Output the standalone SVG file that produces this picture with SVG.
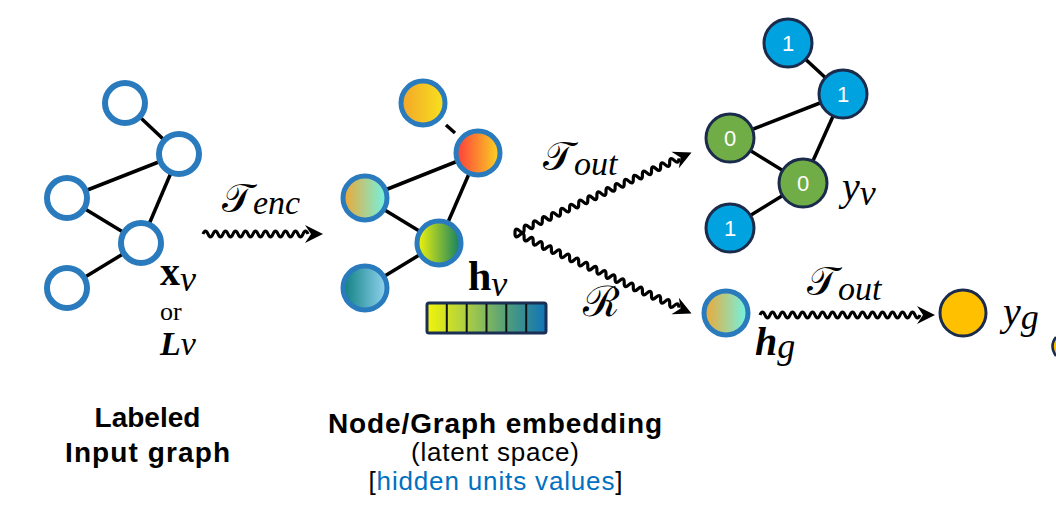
<svg xmlns="http://www.w3.org/2000/svg" xmlns:xlink="http://www.w3.org/1999/xlink" width="1056" height="525" viewBox="0 0 1056 525">
<style>
.edge{stroke:#000;stroke-width:3.5;fill:none}
.wave{stroke:#000;stroke-width:3.2;fill:none;stroke-linejoin:round}
.inNode{fill:#fff;stroke:#2a7bbd;stroke-width:6}
.embNode{stroke:#2a7bbd;stroke-width:5}
.blue1{fill:#00a3e0;stroke:#1b2b4b;stroke-width:3}
.green0{fill:#70ad47;stroke:#1b2b4b;stroke-width:3}
.lbl{font-family:"Liberation Sans",Arial,sans-serif;font-size:22px;fill:#fff;text-anchor:middle}
.math{font-family:"Liberation Serif","DejaVu Serif",serif;fill:#000}
.cap{font-family:"Liberation Sans",Arial,sans-serif;font-size:28px;text-anchor:middle;fill:#000}
.sub{font-family:"Liberation Sans",Arial,sans-serif;font-size:26px;text-anchor:middle;fill:#000}
</style>
<defs>
<path id="ah" d="M0,0 L-18,-9 L-12,0 L-18,9 Z" fill="#000"/>
<linearGradient id="gA"><stop offset="0" stop-color="#f3a52a"/><stop offset="1" stop-color="#f8e21e"/></linearGradient>
<linearGradient id="gB"><stop offset="0" stop-color="#ff3b3b"/><stop offset="1" stop-color="#f9d623"/></linearGradient>
<linearGradient id="gC"><stop offset="0" stop-color="#f0a632"/><stop offset="1" stop-color="#6ff5e6"/></linearGradient>
<linearGradient id="gD"><stop offset="0" stop-color="#f5f50a"/><stop offset="1" stop-color="#0f7f63"/></linearGradient>
<linearGradient id="gE"><stop offset="0" stop-color="#0f7f80"/><stop offset="1" stop-color="#92d4f2"/></linearGradient>
<linearGradient id="gBar"><stop offset="0" stop-color="#f2f40a"/><stop offset="0.35" stop-color="#a8cc46"/><stop offset="0.7" stop-color="#4a9a80"/><stop offset="1" stop-color="#0f74b8"/></linearGradient>
</defs>

<g id="connectors">
  <line class="edge" x1="125" y1="103" x2="179" y2="154"/>
  <line class="edge" x1="179" y1="154" x2="67" y2="198"/>
  <line class="edge" x1="179" y1="154" x2="141" y2="243"/>
  <line class="edge" x1="67" y1="198" x2="141" y2="243"/>
  <line class="edge" x1="141" y1="243" x2="67" y2="288"/>
  <line class="edge" x1="446" y1="125" x2="455" y2="133"/>
  <line class="edge" x1="478" y1="153" x2="365" y2="198"/>
  <line class="edge" x1="478" y1="153" x2="439" y2="243"/>
  <line class="edge" x1="365" y1="198" x2="439" y2="243"/>
  <line class="edge" x1="439" y1="243" x2="365" y2="288"/>
  <line class="edge" x1="788" y1="43" x2="843" y2="94"/>
  <line class="edge" x1="843" y1="94" x2="730" y2="138"/>
  <line class="edge" x1="843" y1="94" x2="803" y2="183"/>
  <line class="edge" x1="730" y1="138" x2="803" y2="183"/>
  <line class="edge" x1="803" y1="183" x2="730" y2="228"/>
  <g id="arrow-enc" transform="translate(203,234)">
    <path class="wave" d="M0,0 q2.5,-6 5,0 q2.5,6 5,0 q2.5,-6 5,0 q2.5,6 5,0 q2.5,-6 5,0 q2.5,6 5,0 q2.5,-6 5,0 q2.5,6 5,0 q2.5,-6 5,0 q2.5,6 5,0 q2.5,-6 5,0 q2.5,6 5,0 q2.5,-6 5,0 q2.5,6 5,0 q2.5,-6 5,0 q2.5,6 5,0 q2.5,-6 5,0 q2.5,6 5,0 q2.5,-6 5,0 q2.5,6 5,0 q2.5,-6 5,0"/>
    <use xlink:href="#ah" href="#ah" x="120" y="0"/>
  </g>
  <g id="arrow-out-node" transform="translate(515,233) rotate(-24.5)">
    <path class="wave" d="M0,0 q2.5,-6 5,0 q2.5,6 5,0 q2.5,-6 5,0 q2.5,6 5,0 q2.5,-6 5,0 q2.5,6 5,0 q2.5,-6 5,0 q2.5,6 5,0 q2.5,-6 5,0 q2.5,6 5,0 q2.5,-6 5,0 q2.5,6 5,0 q2.5,-6 5,0 q2.5,6 5,0 q2.5,-6 5,0 q2.5,6 5,0 q2.5,-6 5,0 q2.5,6 5,0 q2.5,-6 5,0 q2.5,6 5,0 q2.5,-6 5,0 q2.5,6 5,0 q2.5,-6 5,0 q2.5,6 5,0 q2.5,-6 5,0 q2.5,6 5,0 q2.5,-6 5,0 q2.5,6 5,0 q2.5,-6 5,0 q2.5,6 5,0 q2.5,-6 5,0 q2.5,6 5,0 q2.5,-6 5,0 q2.5,6 5,0 q2.5,-6 5,0 q2.5,6 5,0"/>
    <use xlink:href="#ah" href="#ah" x="194" y="0"/>
  </g>
  <g id="arrow-readout" transform="translate(515,233) rotate(24.5)">
    <path class="wave" d="M0,0 q2.5,6 5,0 q2.5,-6 5,0 q2.5,6 5,0 q2.5,-6 5,0 q2.5,6 5,0 q2.5,-6 5,0 q2.5,6 5,0 q2.5,-6 5,0 q2.5,6 5,0 q2.5,-6 5,0 q2.5,6 5,0 q2.5,-6 5,0 q2.5,6 5,0 q2.5,-6 5,0 q2.5,6 5,0 q2.5,-6 5,0 q2.5,6 5,0 q2.5,-6 5,0 q2.5,6 5,0 q2.5,-6 5,0 q2.5,6 5,0 q2.5,-6 5,0 q2.5,6 5,0 q2.5,-6 5,0 q2.5,6 5,0 q2.5,-6 5,0 q2.5,6 5,0 q2.5,-6 5,0 q2.5,6 5,0 q2.5,-6 5,0 q2.5,6 5,0 q2.5,-6 5,0 q2.5,6 5,0 q2.5,-6 5,0 q2.5,6 5,0 q2.5,-6 5,0"/>
    <use xlink:href="#ah" href="#ah" x="194" y="0"/>
  </g>
  <g id="arrow-out-graph" transform="translate(760,315)">
    <path class="wave" d="M0,0 q2.5,-6 5,0 q2.5,6 5,0 q2.5,-6 5,0 q2.5,6 5,0 q2.5,-6 5,0 q2.5,6 5,0 q2.5,-6 5,0 q2.5,6 5,0 q2.5,-6 5,0 q2.5,6 5,0 q2.5,-6 5,0 q2.5,6 5,0 q2.5,-6 5,0 q2.5,6 5,0 q2.5,-6 5,0 q2.5,6 5,0 q2.5,-6 5,0 q2.5,6 5,0 q2.5,-6 5,0 q2.5,6 5,0 q2.5,-6 5,0 q2.5,6 5,0 q2.5,-6 5,0 q2.5,6 5,0 q2.5,-6 5,0 q2.5,6 5,0 q2.5,-6 5,0 q2.5,6 5,0 q2.5,-6 5,0 q2.5,6 5,0 q2.5,-6 5,0 q2.5,6 5,0"/>
    <use xlink:href="#ah" href="#ah" x="175" y="0"/>
  </g>
</g>

<g id="in-a"><circle class="inNode" cx="125" cy="103" r="20"/></g>
<g id="in-b"><circle class="inNode" cx="179" cy="154" r="20"/></g>
<g id="in-c"><circle class="inNode" cx="67" cy="198" r="20"/></g>
<g id="in-d"><circle class="inNode" cx="141" cy="243" r="20"/></g>
<g id="in-e"><circle class="inNode" cx="67" cy="288" r="20"/></g>

<g id="emb-a"><circle class="embNode" cx="423" cy="103" r="22" fill="url(#gA)"/></g>
<g id="emb-b"><circle class="embNode" cx="478" cy="153" r="22" fill="url(#gB)"/></g>
<g id="emb-c"><circle class="embNode" cx="365" cy="198" r="22" fill="url(#gC)"/></g>
<g id="emb-d"><circle class="embNode" cx="439" cy="243" r="22" fill="url(#gD)"/></g>
<g id="emb-e"><circle class="embNode" cx="365" cy="288" r="22" fill="url(#gE)"/></g>

<g id="bar">
  <rect x="427" y="303" width="119" height="30" rx="2" fill="url(#gBar)" stroke="#1b2f55" stroke-width="3"/>
  <g stroke="#111" stroke-width="2">
    <line x1="446.8" y1="304" x2="446.8" y2="332"/>
    <line x1="466.7" y1="304" x2="466.7" y2="332"/>
    <line x1="486.5" y1="304" x2="486.5" y2="332"/>
    <line x1="506.3" y1="304" x2="506.3" y2="332"/>
    <line x1="526.2" y1="304" x2="526.2" y2="332"/>
  </g>
</g>

<g id="out-1"><circle class="blue1" cx="788" cy="43" r="24"/><text class="lbl" x="788" y="51">1</text></g>
<g id="out-2"><circle class="blue1" cx="843" cy="94" r="24"/><text class="lbl" x="843" y="102">1</text></g>
<g id="out-3"><circle class="green0" cx="730" cy="138" r="24"/><text class="lbl" x="730" y="146">0</text></g>
<g id="out-4"><circle class="green0" cx="803" cy="183" r="24"/><text class="lbl" x="803" y="191">0</text></g>
<g id="out-5"><circle class="blue1" cx="730" cy="228" r="24"/><text class="lbl" x="730" y="236">1</text></g>

<g id="hg-node"><circle class="embNode" cx="726" cy="313" r="22" fill="url(#gC)"/></g>
<g id="yg-node"><circle cx="963" cy="313" r="23" fill="#ffc000" stroke="#1b2b4b" stroke-width="3"/></g>
<g id="edge-partial"><path d="M1056,337 Q1049,346 1056,356" fill="#ffc000" stroke="#1b2b4b" stroke-width="2.5"/></g>

<g id="labels">
  <text class="math" x="160" y="285"><tspan font-weight="bold" font-size="40">x</tspan><tspan font-style="italic" font-size="36" dy="6">v</tspan></text>
  <text class="math" x="160" y="320" font-size="26">or</text>
  <text class="math" x="160" y="355" font-size="34" font-style="italic"><tspan font-weight="bold">L</tspan>v</text>
  <text class="math" x="222" y="212"><tspan font-size="40">𝒯</tspan><tspan font-style="italic" font-size="34" dy="2">enc</tspan></text>
  <text class="math" x="468" y="290"><tspan font-weight="bold" font-size="42">h</tspan><tspan font-style="italic" font-size="36" dy="6">v</tspan></text>
  <text class="math" x="543" y="170"><tspan font-size="40">𝒯</tspan><tspan font-style="italic" font-size="34" dy="5">out</tspan></text>
  <text class="math" x="583" y="316" font-size="42">ℛ</text>
  <text class="math" x="807" y="295"><tspan font-size="40">𝒯</tspan><tspan font-style="italic" font-size="34" dy="5">out</tspan></text>
  <text class="math" x="842" y="200"><tspan font-style="italic" font-size="40">y</tspan><tspan font-style="italic" font-size="36" dy="5">v</tspan></text>
  <text class="math" x="755" y="355"><tspan font-style="italic" font-weight="bold" font-size="40">h</tspan><tspan font-style="italic" font-size="36" dy="3">g</tspan></text>
  <text class="math" x="1003" y="325"><tspan font-style="italic" font-size="40">y</tspan><tspan font-style="italic" font-size="36" dy="4">g</tspan></text>
</g>

<g id="captions">
  <text class="cap" x="147.5" y="427" font-weight="bold">Labeled</text>
  <text class="cap" x="147.5" y="462" font-weight="bold" textLength="165">Input graph</text>
  <text class="cap" x="495" y="433" font-weight="bold" textLength="334">Node/Graph embedding</text>
  <text class="sub" x="495" y="461" textLength="168">(latent space)</text>
  <text class="sub" x="495.5" y="490" textLength="254">[<tspan fill="#0070c0">hidden units values</tspan>]</text>
</g>
</svg>
